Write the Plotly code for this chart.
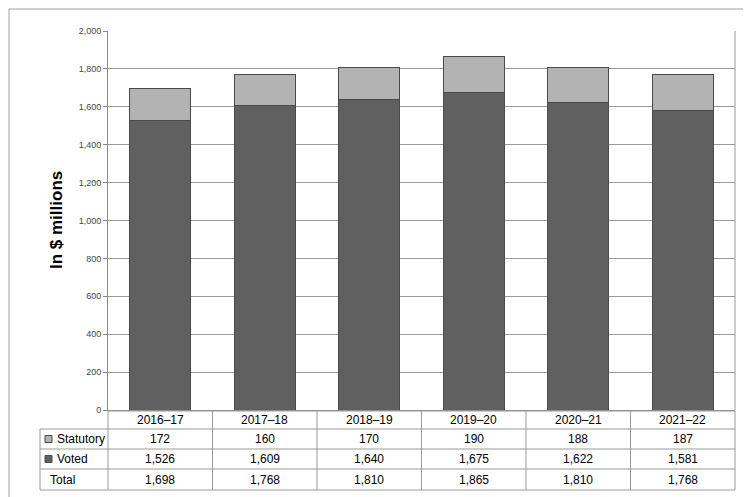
import plotly.graph_objects as go

years = ["2016–17", "2017–18", "2018–19", "2019–20", "2020–21", "2021–22"]
statutory = [172, 160, 170, 190, 188, 187]
voted = [1526, 1609, 1640, 1675, 1622, 1581]
total = [1698, 1768, 1810, 1865, 1810, 1768]
yticks = list(range(0, 2001, 200))

W, H = 751, 497
L, R, T, B = 100, 24, 23, 95
pw, ph = W - L - R, H - T - B
def px(x): return (x - L) / pw
def py(y): return (H - B - y) / ph * 1.0

fig = go.Figure()
fig.add_bar(x=years, y=voted, name="Voted", marker=dict(color="#606060", line=dict(color="#4a4a4a", width=1)), width=0.58)
fig.add_bar(x=years, y=statutory, name="Statutory", marker=dict(color="#b3b3b3", line=dict(color="#4a4a4a", width=1)), width=0.58)

shapes = []
ann = []
line = dict(color="#9a9a9a", width=1)
shapes.append(dict(type="rect", xref="paper", yref="paper", x0=px(1), x1=px(W-2), y0=py(H-2), y1=py(1), line=dict(color="#a0a0a0", width=1)))
shapes.append(dict(type="line", xref="paper", yref="paper", x0=1, x1=1, y0=0, y1=1, line=line))
rows = [403, 421, 441, 461, 482]
n = len(years)
cw = pw / n
for i, yy in enumerate(rows):
    x0 = L if i == 0 else 32
    shapes.append(dict(type="line", xref="paper", yref="paper", x0=px(x0), x1=px(W-R), y0=py(yy), y1=py(yy), line=line))
for k in range(n + 1):
    xx = L + k * cw
    shapes.append(dict(type="line", xref="paper", yref="paper", x0=px(xx), x1=px(xx), y0=py(403), y1=py(482), line=line))
shapes.append(dict(type="line", xref="paper", yref="paper", x0=px(32), x1=px(32), y0=py(421), y1=py(482), line=line))
font = dict(family="Liberation Sans, Arial", size=12, color="#000")
for k, yr in enumerate(years):
    cx = px(L + (k + 0.5) * cw)
    ann.append(dict(x=cx, y=py(412), text=yr))
    for val, yy in [(statutory[k], 431), (voted[k], 451), (total[k], 471.5)]:
        ann.append(dict(x=cx, y=py(yy), text=f"{val:,}"))
labels = [("Statutory", 431, "#b3b3b3"), ("Voted", 451, "#606060"), ("Total", 471.5, None)]
for name, yy, col in labels:
    xt = 47 if col else 40
    ann.append(dict(x=px(xt), y=py(yy), text=name, xanchor="left"))
    if col:
        shapes.append(dict(type="rect", xref="paper", yref="paper", x0=px(37), x1=px(44), y0=py(yy+3.5), y1=py(yy-3.5), fillcolor=col, line=dict(color="#4a4a4a", width=1)))
for a in ann:
    a.update(xref="paper", yref="paper", showarrow=False, font=font, yanchor="middle")
    a.setdefault("xanchor", "center")
ann.append(dict(x=px(37), y=0.5, xref="paper", yref="paper", text="<b>In $ millions</b>", textangle=-90, showarrow=False, font=dict(family="Liberation Sans, Arial", size=17, color="#000")))

fig.update_layout(
    barmode="stack", width=W, height=H, margin=dict(l=L, r=R, t=T, b=B, autoexpand=False),
    plot_bgcolor="white", paper_bgcolor="white", showlegend=False,
    shapes=shapes, annotations=ann, bargap=0.42,
    xaxis=dict(showticklabels=False, showline=True, linecolor="#888", ticks=""),
    yaxis=dict(range=[0, 2000], tickvals=yticks, tickformat=",", showgrid=True, gridcolor="#999", gridwidth=1,
               showline=True, linecolor="#888", ticks="outside", ticklen=4, tickcolor="#888",
               tickfont=dict(family="Liberation Sans, Arial", size=9, color="#444")),
)
fig.write_html("out.html")
